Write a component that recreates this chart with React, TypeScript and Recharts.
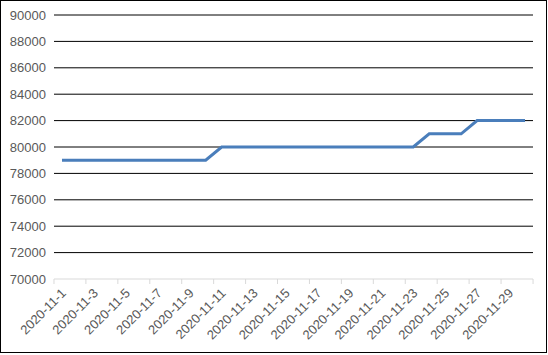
import React from "react";
import { LineChart, Line, XAxis, YAxis, ReferenceLine } from "recharts";

const dates = [
  "2020-11-1", "2020-11-2", "2020-11-3", "2020-11-4", "2020-11-5", "2020-11-6",
  "2020-11-7", "2020-11-8", "2020-11-9", "2020-11-10", "2020-11-11", "2020-11-12",
  "2020-11-13", "2020-11-14", "2020-11-15", "2020-11-16", "2020-11-17", "2020-11-18",
  "2020-11-19", "2020-11-20", "2020-11-21", "2020-11-22", "2020-11-23", "2020-11-24",
  "2020-11-25", "2020-11-26", "2020-11-27", "2020-11-28", "2020-11-29", "2020-11-30",
];

const values = [
  79000, 79000, 79000, 79000, 79000, 79000, 79000, 79000, 79000, 79000,
  80000, 80000, 80000, 80000, 80000, 80000, 80000, 80000, 80000, 80000,
  80000, 80000, 80000, 81000, 81000, 81000, 82000, 82000, 82000, 82000,
];

const yTicks = [70000, 72000, 74000, 76000, 78000, 80000, 82000, 84000, 86000, 88000, 90000];
const xTickDays = [1, 3, 5, 7, 9, 11, 13, 15, 17, 19, 21, 23, 25, 27, 29];

const data = dates.map((d, i) => ({ day: i + 1, date: d, value: values[i] }));

const FONT = "'Liberation Sans', Arial, sans-serif";

const XTick = (props: any) => {
  const { x, y, payload } = props;
  const label = dates[payload.value - 1];
  const isLast = payload.value === xTickDays[xTickDays.length - 1];
  return (
    <g>
      <line x1={x - 8} y1={y} x2={x - 8} y2={y + 5} stroke="#d9d9d9" />
      {isLast && <line x1={x + 24} y1={y} x2={x + 24} y2={y + 5} stroke="#d9d9d9" />}
      <text
        transform={`translate(${x + 5},${y + 15}) rotate(-45)`}
        textAnchor="end"
        fontSize={13}
        fontFamily={FONT}
        fill="#595959"
      >
        {label}
      </text>
    </g>
  );
};

export default function App() {
  return (
    <div style={{ position: "fixed", left: 0, top: 0, width: 548, height: 355, background: "#fff" }}>
      <div style={{ position: "absolute", left: 0, top: 0 }}>
        <LineChart width={547} height={353} data={data} margin={{ top: 15, right: 14, left: 0, bottom: 0 }}>
          {yTicks.filter((t) => t > 70000).map((t) => (
            <ReferenceLine key={t} y={t} stroke="#000" strokeWidth={1} />
          ))}
          <XAxis
            type="number"
            dataKey="day"
            domain={[0.5, 30.5]}
            ticks={xTickDays}
            interval={0}
            height={74}
            axisLine={{ stroke: "#d9d9d9" }}
            tickLine={false}
            tickSize={0}
            tickMargin={0}
            tick={<XTick />}
          />
          <YAxis
            type="number"
            domain={[70000, 90000]}
            ticks={yTicks}
            interval={0}
            width={54}
            axisLine={false}
            tickLine={false}
            tick={{ fill: "#595959", fontSize: 13, fontFamily: FONT }}
          />
          <Line
            type="linear"
            dataKey="value"
            stroke="#4a7ebb"
            strokeWidth={3}
            dot={false}
            isAnimationActive={false}
          />
        </LineChart>
      </div>
      <div
        style={{
          position: "absolute",
          left: 0,
          top: 0,
          width: 547,
          height: 353,
          border: "1px solid #000",
          boxSizing: "border-box",
          pointerEvents: "none",
        }}
      />
    </div>
  );
}
